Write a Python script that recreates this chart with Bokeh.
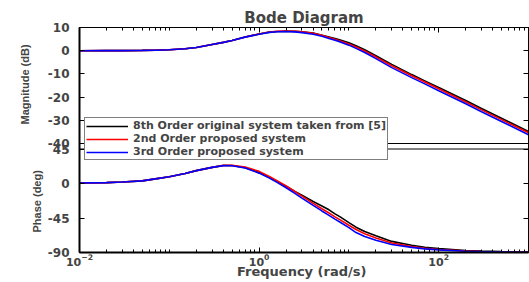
import math
from bokeh.plotting import figure
from bokeh.models import (Range1d, LinearAxis, LogAxis, FixedTicker, CustomJSTickFormatter,
                          Title, Legend, LegendItem, Span)
from bokeh.embed import file_html
from bokeh.resources import INLINE

# ---------------- data ----------------
freq = [0.01, 0.02, 0.03, 0.05, 0.07, 0.1, 0.15, 0.2, 0.3, 0.4, 0.5, 0.7, 1, 1.3, 1.6, 2, 2.5, 3,
        4, 5, 6, 7, 8, 10, 12, 15, 20, 30, 50, 70, 100, 200, 300, 500, 1000]

mag_8th = [0.0, 0.02, 0.05, 0.12, 0.22, 0.4, 0.85, 1.4, 2.7, 3.6, 4.4, 5.9, 7.2, 8.0, 8.3, 8.4, 8.35, 8.1,
           7.6, 6.7, 5.9, 5.2, 4.6, 3.4, 2.1, 0.4, -2.2, -5.9, -10.3, -13.0, -15.9, -21.5, -24.9, -29.1, -34.8]
mag_2nd = [0.0, 0.02, 0.05, 0.12, 0.22, 0.4, 0.85, 1.4, 2.7, 3.6, 4.4, 5.9, 7.2, 8.05, 8.4, 8.5, 8.4, 8.1,
           7.5, 6.6, 5.7, 4.9, 4.2, 2.9, 1.6, -0.1, -2.7, -6.5, -10.8, -13.5, -16.4, -22.1, -25.5, -29.7, -35.4]
mag_3rd = [0.0, 0.02, 0.05, 0.12, 0.22, 0.4, 0.85, 1.4, 2.7, 3.6, 4.4, 5.85, 7.1, 7.9, 8.2, 8.3, 8.1, 7.8,
           7.1, 6.2, 5.3, 4.5, 3.8, 2.4, 1.0, -0.8, -3.4, -7.3, -11.6, -14.3, -17.3, -22.9, -26.3, -30.5, -36.2]

phase_8th = [0.6, 1.2, 1.9, 3.4, 6.0, 8.7, 13.0, 16.8, 21.0, 23.4, 23.4, 20.5, 14.5, 8.0, 2.5, -3.5, -10.3, -15.2,
             -23.5, -29.4, -34.3, -39.6, -43.5, -51.0, -57.0, -62.5, -68.0, -75.5, -80.5, -83.2, -85.0, -87.3, -88.1, -88.8, -89.4]
phase_2nd = [0.6, 1.2, 1.9, 3.4, 6.0, 8.7, 13.0, 16.8, 21.0, 23.6, 23.8, 21.6, 15.8, 9.2, 3.3, -3.3, -10.5, -16.5,
             -26.0, -33.0, -38.5, -43.5, -47.5, -54.5, -60.0, -65.5, -71.0, -77.5, -82.3, -84.5, -86.0, -88.0, -88.6, -89.1, -89.5]
phase_3rd = [0.6, 1.2, 1.9, 3.4, 6.0, 8.7, 13.0, 16.8, 21.0, 23.3, 23.2, 20.3, 13.5, 7.0, 1.2, -5.5, -12.8, -19.0,
             -28.5, -35.8, -41.5, -46.5, -50.5, -57.5, -64.0, -69.0, -74.0, -79.5, -83.3, -85.3, -86.6, -88.3, -88.8, -89.3, -89.6]

series_labels = ["8th Order original system taken from [5]",
                 "2nd Order proposed system",
                 "3rd Order proposed system"]
series_colors = ["#000000", "#ff0000", "#0000ff"]

mag_ticks = [10, 0, -10, -20, -30, -40]
mag_tick_text = ["10", "0", "-10", "-20", "-30", "-40"]
phase_ticks = [45, 0, -45, -90]
phase_tick_text = ["45", "0", "-45", "-90"]
x_major = [1e-2, 1e0, 1e2]

# ---------------- layout ----------------
W, H = 529, 282
BL, BR, BT, BB = 79, 1, 27, 30
frame_h = H - BT - BB
mag_bot_px = 116          # -40 dB, from frame top
ph_top_px = 121.5         # +45 deg, from frame top
S_m = 50.0 * frame_h / mag_bot_px
MAG_LO = 10 - S_m
S_p = 135.0 * frame_h / (frame_h - ph_top_px)
PH_HI = -90 + S_p

def ph_to_mag(v):
    return MAG_LO + (v + 90.0) / S_p * S_m

FONT = "DejaVu Sans"

p = figure(width=W, height=H, x_axis_type="log", x_range=Range1d(1e-2, 1e3),
           y_range=Range1d(MAG_LO, 10), output_backend="svg", toolbar_location=None,
           min_border_left=BL, min_border_right=BR, min_border_top=BT, min_border_bottom=BB)
p.extra_y_ranges = {"phase": Range1d(-90, PH_HI)}
p.xgrid.visible = False
p.ygrid.visible = False
p.outline_line_color = "black"
p.outline_line_width = 1
p.background_fill_color = "white"
p.border_fill_color = "white"

p.title.text = "Bode Diagram"
p.title.align = "center"
p.title.text_font = FONT
p.title.text_font_style = "bold"
p.title.text_font_size = "15px"
p.title.standoff = 2

minor = []
for d in range(-2, 3):
    for k in range(1, 10):
        v = k * 10.0 ** d
        if v not in x_major:
            minor.append(v)
xticker = FixedTicker(ticks=x_major, minor_ticks=minor)

left_pos = list(mag_ticks) + [ph_to_mag(v) for v in phase_ticks]
left_txt = mag_tick_text + phase_tick_text
yticker = FixedTicker(ticks=left_pos)
yfmt = CustomJSTickFormatter(args=dict(pos=left_pos, txt=left_txt), code="""
let best = 0; let d = Infinity;
for (let i = 0; i < pos.length; i++) { const e = Math.abs(pos[i] - tick); if (e < d) { d = e; best = i; } }
return txt[best];
""")
blank = CustomJSTickFormatter(code="return '';")

ya = p.yaxis[0]
ya.ticker = yticker
ya.formatter = yfmt
ya.major_tick_in = 5
ya.major_tick_out = 0
ya.minor_tick_in = 0
ya.minor_tick_out = 0
ya.axis_line_width = 2
ya.major_label_text_font = FONT
ya.major_label_text_font_style = "bold"
ya.major_label_text_font_size = "12px"
ya.major_label_standoff = 10

xa = p.xaxis[0]
xa.ticker = xticker
xa.major_tick_in = 5
xa.major_tick_out = 0
xa.minor_tick_in = 3
xa.minor_tick_out = 0
xa.axis_line_width = 2
xa.major_label_text_font = FONT
xa.major_label_text_font_style = "bold"
xa.major_label_text_font_size = "11px"
xa.major_label_standoff = 1
xa.axis_label = "Frequency  (rad/s)"
xa.axis_label_text_font = FONT
xa.axis_label_text_font_style = "bold"
xa.axis_label_text_font_size = "13px"
xa.axis_label_standoff = -5

top = LogAxis(ticker=xticker, formatter=blank, major_label_standoff=0,
              major_tick_in=5, major_tick_out=0, minor_tick_in=3, minor_tick_out=0)
p.add_layout(top, "above")
right = LinearAxis(ticker=yticker, formatter=blank, major_label_standoff=0,
                   major_tick_in=5, major_tick_out=0, minor_tick_in=0, minor_tick_out=0)
p.add_layout(right, "right")

# y-axis names (titles on the left side, placed along their own panel)
p.add_layout(Title(text="Phase (deg)", align="left", offset=20, standoff=0,
                   vertical_align="top",
                   text_font="Liberation Sans", text_font_style="bold", text_font_size="11px"), "left")
p.add_layout(Title(text="Magnitude (dB)", align="left", offset=128, standoff=0,
                   vertical_align="bottom",
                   text_font="Liberation Sans", text_font_style="bold", text_font_size="11px"), "left")

# separator lines between the two panels
p.add_layout(Span(location=-40, dimension="width", line_color="black", line_width=1))
p.add_layout(Span(location=45, dimension="width", line_color="black", line_width=1, y_range_name="phase"))

mags = [mag_8th, mag_2nd, mag_3rd]
phases = [phase_8th, phase_2nd, phase_3rd]
items = []
for lab, col, m, ph in zip(series_labels, series_colors, mags, phases):
    r = p.line(freq, m, line_color=col, line_width=1.6)
    p.line(freq, ph, line_color=col, line_width=1.6, y_range_name="phase")
    items.append(LegendItem(label=lab, renderers=[r]))

legend = Legend(items=items, location=(5, 92), margin=0, padding=1, spacing=0,
                border_line_color="black", border_line_width=1, background_fill_color="white",
                background_fill_alpha=1, label_text_font=FONT, label_text_font_style="bold",
                label_text_font_size="11px", glyph_width=42, glyph_height=10, label_height=10,
                label_standoff=5)
p.add_layout(legend)

open("out.html", "w").write(file_html(p, INLINE))
